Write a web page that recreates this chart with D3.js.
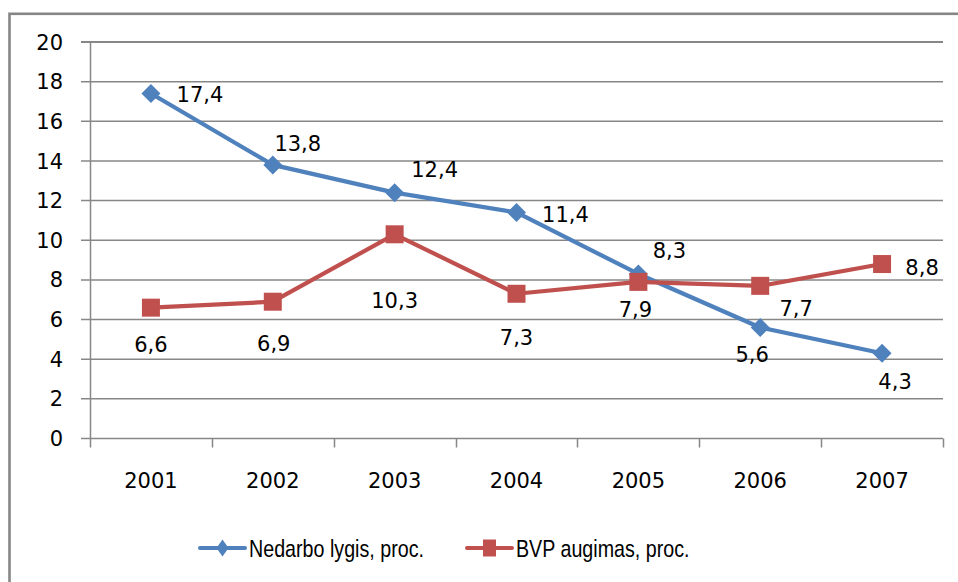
<!DOCTYPE html>
<html>
<head>
<meta charset="utf-8">
<script src="https://cdn.jsdelivr.net/npm/d3@7"></script>
<style>
  body { margin: 0; background: #fff; }
  text { font-family: "DejaVu Sans", sans-serif; fill: #000; }
  text.legend-label { font-family: "Liberation Sans", Arial, sans-serif; }
</style>
</head>
<body>
<div id="chart"></div>
<script>
var svgWidth = 958;
var svgHeight = 582;

var margin = { top: 42, right: 15, bottom: 144, left: 90 };
var width = 943 - margin.left;
var height = 438.5 - margin.top;

// data
var years = ["2001", "2002", "2003", "2004", "2005", "2006", "2007"];
var nedarbo = [17.4, 13.8, 12.4, 11.4, 8.3, 5.6, 4.3];
var bvp = [6.6, 6.9, 10.3, 7.3, 7.9, 7.7, 8.8];
var yTicks = [0, 2, 4, 6, 8, 10, 12, 14, 16, 18, 20];
var seriesNames = ["Nedarbo lygis, proc.", "BVP augimas, proc."];

// label offsets from the point (style, not data)
var nedarboOffsets = [[49, 1], [25, -21], [40, -23], [49, 2], [31, -24], [-8, 27], [13, 28]];
var bvpOffsets = [[0, 37], [1, 42], [0, 66], [0, 44], [-3, 28], [36, 23], [40, 3]];

var blue = "#4f81bd";
var red = "#c0504d";

var svg = d3.select("#chart")
  .append("svg")
  .attr("width", svgWidth)
  .attr("height", svgHeight);

// outer chart border
svg.append("rect")
  .attr("x", 9.5)
  .attr("y", 13.8)
  .attr("width", 960)
  .attr("height", 600)
  .attr("fill", "none")
  .attr("stroke", "#868686")
  .attr("stroke-width", 2.6);

var chartGroup = svg.append("g")
  .attr("transform", `translate(${margin.left}, ${margin.top})`);

var xScale = d3.scaleBand()
  .domain(years)
  .range([0, width]);

var yScale = d3.scaleLinear()
  .domain([0, 20])
  .range([height, 0]);

// gridlines
chartGroup.selectAll(".grid")
  .data(yTicks)
  .enter()
  .append("line")
  .attr("x1", -9)
  .attr("x2", width)
  .attr("y1", d => yScale(d))
  .attr("y2", d => yScale(d))
  .attr("stroke", "#878787")
  .attr("stroke-width", d => d === 20 ? 2.2 : 1.5);

// y axis line
chartGroup.append("line")
  .attr("x1", 0.5).attr("x2", 0.5)
  .attr("y1", 0).attr("y2", height)
  .attr("stroke", "#878787")
  .attr("stroke-width", 1.5);

// y tick labels
chartGroup.selectAll(".ylab")
  .data(yTicks)
  .enter()
  .append("text")
  .attr("x", -27)
  .attr("y", d => yScale(d))
  .attr("dy", "0.36em")
  .attr("text-anchor", "end")
  .attr("font-size", "21px")
  .text(d => d);

// x axis ticks
var xTickPos = years.map(d => xScale(d)).concat([width]);
chartGroup.selectAll(".xtick")
  .data(xTickPos)
  .enter()
  .append("line")
  .attr("x1", d => Math.round(d) + 0.5)
  .attr("x2", d => Math.round(d) + 0.5)
  .attr("y1", height)
  .attr("y2", height + 9)
  .attr("stroke", "#878787")
  .attr("stroke-width", 1.5);

// x labels
chartGroup.selectAll(".xlab")
  .data(years)
  .enter()
  .append("text")
  .attr("x", d => xScale(d) + xScale.bandwidth() / 2)
  .attr("y", height + 42)
  .attr("dy", "0.36em")
  .attr("text-anchor", "middle")
  .attr("font-size", "21px")
  .text(d => d);

var line = d3.line()
  .x((d, i) => xScale(years[i]) + xScale.bandwidth() / 2)
  .y(d => yScale(d));

var fmt = d => String(d).replace(".", ",");

function drawSeries(values, color, shape, offsets) {
  chartGroup.append("path")
    .datum(values)
    .attr("d", line)
    .attr("fill", "none")
    .attr("stroke", color)
    .attr("stroke-width", 4.2)
    .attr("stroke-linejoin", "round");

  chartGroup.selectAll(null)
    .data(values)
    .enter()
    .append("path")
    .attr("transform", (d, i) => `translate(${xScale(years[i]) + xScale.bandwidth() / 2}, ${yScale(d)})`)
    .attr("d", shape)
    .attr("fill", color);

  chartGroup.selectAll(null)
    .data(values)
    .enter()
    .append("text")
    .attr("x", (d, i) => xScale(years[i]) + xScale.bandwidth() / 2 + offsets[i][0])
    .attr("y", (d, i) => yScale(d) + offsets[i][1])
    .attr("dy", "0.36em")
    .attr("text-anchor", "middle")
    .attr("font-size", "21px")
    .text(fmt);
}

var diamond = "M0,-9.5L9.5,0L0,9.5L-9.5,0Z";
var square = "M-9,-9H9V9H-9Z";

drawSeries(nedarbo, blue, diamond, nedarboOffsets);
drawSeries(bvp, red, square, bvpOffsets);

// legend
var legend = svg.append("g");
var legendItems = [
  { name: seriesNames[0], color: blue, shape: "M0,-8.5L6,0L0,8.5L-6,0Z", x: 200 },
  { name: seriesNames[1], color: red, shape: "M-6.5,-8.5H6.5V8.5H-6.5Z", x: 467 }
];
legendItems.forEach(function(item) {
  legend.append("line")
    .attr("x1", item.x).attr("x2", item.x + 45)
    .attr("y1", 548).attr("y2", 548)
    .attr("stroke", item.color)
    .attr("stroke-width", 4)
    .attr("stroke-linecap", "round");
  legend.append("path")
    .attr("transform", `translate(${item.x + 22.5}, 548)`)
    .attr("d", item.shape)
    .attr("fill", item.color);
  legend.append("text")
    .attr("class", "legend-label")
    .attr("transform", `translate(${item.x + 49}, 548) scale(0.82, 1)`)
    .attr("dy", "0.36em")
    .attr("font-size", "24px")
    .text(item.name);
});
</script>
</body>
</html>
